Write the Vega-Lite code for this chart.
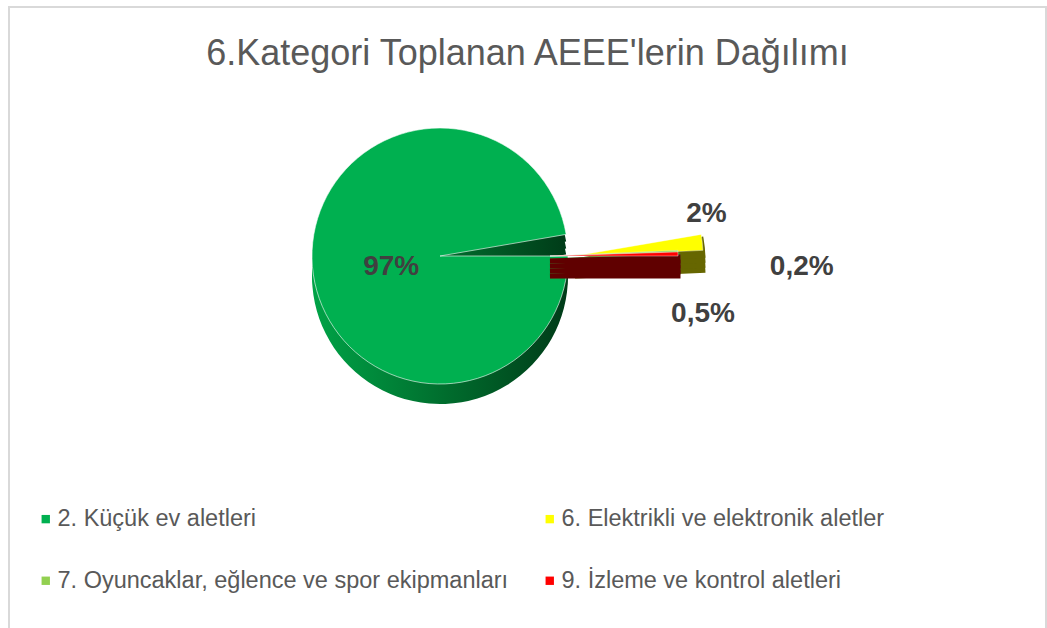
{
  "$schema": "https://vega.github.io/schema/vega-lite/v6.json",
  "width": 1037,
  "height": 625,
  "padding": {"left": 9, "top": 7, "right": 0, "bottom": 0},
  "background": "#ffffff",
  "config": {
    "view": {"stroke": "#D9D9D9", "strokeWidth": 2},
    "font": "Liberation Sans",
    "legend": {
      "orient": "none",
      "legendX": 25,
      "legendY": 500,
      "columns": 2,
      "rowPadding": 37,
      "columnPadding": 29,
      "labelFontSize": 23.5,
      "labelFont": "Liberation Sans",
      "labelColor": "#595959",
      "labelLimit": 700,
      "labelOffset": 0,
      "symbolType": "square",
      "symbolSize": 70,
      "symbolStrokeWidth": 0,
      "padding": 0
    }
  },
  "title": {
    "text": "6.Kategori Toplanan AEEE'lerin Dağılımı",
    "fontSize": 36,
    "font": "Liberation Sans",
    "fontWeight": "normal",
    "color": "#595959",
    "anchor": "middle",
    "baseline": "alphabetic",
    "offset": -61,
    "dy": 33
  },
  "data": {
    "values": [
      {"cat": "2. Küçük ev aletleri", "value": 97.3, "label": "97%", "order": 1},
      {"cat": "6. Elektrikli ve elektronik aletler", "value": 2.0, "label": "2%", "order": 2},
      {"cat": "7. Oyuncaklar, eğlence ve spor ekipmanları", "value": 0.2, "label": "0,2%", "order": 3},
      {"cat": "9. İzleme ve kontrol aletleri", "value": 0.5, "label": "0,5%", "order": 4}
    ]
  },
  "encoding": {
    "theta": {"field": "value", "type": "quantitative", "stack": true, "scale": {"range": [1.5707963, 7.8539816]}},
    "order": {"field": "order", "type": "quantitative"}
  },
  "layer": [
    {
      "mark": {"type": "point", "opacity": 0},
      "encoding": {"x": {"field": "order", "type": "quantitative", "axis": null}}
    },
    {
      "mark": {"type": "arc", "outerRadius": 128, "xOffset": -87.5, "yOffset": -56.5, "color": {"gradient": "linear", "x1": 0, "y1": 0, "x2": 1, "y2": 0, "stops": [{"offset": 0, "color": "#00A347"}, {"offset": 0.55, "color": "#006A2C"}, {"offset": 1, "color": "#003B18"}]}},
      "encoding": {"opacity": {"condition": {"test": "datum.order === 1", "value": 1}, "value": 0}}
    },
    {
      "mark": {"type": "arc", "outerRadius": 128, "xOffset": -87.5, "yOffset": -49.5, "color": {"gradient": "linear", "x1": 0, "y1": 0, "x2": 1, "y2": 0, "stops": [{"offset": 0, "color": "#00A347"}, {"offset": 0.55, "color": "#006A2C"}, {"offset": 1, "color": "#003B18"}]}},
      "encoding": {"opacity": {"condition": {"test": "datum.order === 1", "value": 1}, "value": 0}}
    },
    {
      "mark": {"type": "arc", "outerRadius": 128, "xOffset": -87.5, "yOffset": -43.5, "color": {"gradient": "linear", "x1": 0, "y1": 0, "x2": 1, "y2": 0, "stops": [{"offset": 0, "color": "#00A347"}, {"offset": 0.55, "color": "#006A2C"}, {"offset": 1, "color": "#003B18"}]}},
      "encoding": {"opacity": {"condition": {"test": "datum.order === 1", "value": 1}, "value": 0}}
    },
    {
      "mark": {"type": "arc", "outerRadius": 128, "xOffset": -87.5, "yOffset": -63.5, "stroke": "#ffffff", "strokeWidth": 0.6},
      "encoding": {
        "color": {"field": "cat", "type": "nominal", "scale": {"domain": ["2. Küçük ev aletleri", "7. Oyuncaklar, eğlence ve spor ekipmanları", "6. Elektrikli ve elektronik aletler", "9. İzleme ve kontrol aletleri"], "range": ["#00B050", "#92D050", "#FFFF00", "#FF0000"]}, "legend": {"title": null}},
        "opacity": {"condition": {"test": "datum.order === 1", "value": 1}, "value": 0}
      }
    },
    {
      "mark": {"type": "arc", "outerRadius": 128, "xOffset": 47.5, "yOffset": -43.5, "strokeWidth": 5, "color": "#666600", "stroke": "#666600"},
      "encoding": {"opacity": {"condition": {"test": "datum.order === 2", "value": 1}, "value": 0}}
    },
    {
      "mark": {"type": "arc", "outerRadius": 128, "xOffset": 47.5, "yOffset": -48.5, "strokeWidth": 5, "color": "#666600", "stroke": "#666600"},
      "encoding": {"opacity": {"condition": {"test": "datum.order === 2", "value": 1}, "value": 0}}
    },
    {
      "mark": {"type": "arc", "outerRadius": 128, "xOffset": 47.5, "yOffset": -53.5, "strokeWidth": 5, "color": "#666600", "stroke": "#666600"},
      "encoding": {"opacity": {"condition": {"test": "datum.order === 2", "value": 1}, "value": 0}}
    },
    {
      "mark": {"type": "arc", "outerRadius": 128, "xOffset": 47.5, "yOffset": -58.5, "strokeWidth": 5, "color": "#666600", "stroke": "#666600"},
      "encoding": {"opacity": {"condition": {"test": "datum.order === 2", "value": 1}, "value": 0}}
    },
    {
      "mark": {"type": "arc", "outerRadius": 128, "xOffset": 47.5, "yOffset": -63.5, "stroke": "#ffffff", "strokeWidth": 0.4},
      "encoding": {
        "color": {"field": "cat", "type": "nominal", "legend": {"title": null}},
        "opacity": {"condition": {"test": "datum.order === 2", "value": 1}, "value": 0}
      }
    },
    {
      "mark": {"type": "arc", "outerRadius": 128, "xOffset": 22.5, "yOffset": -43.5, "strokeWidth": 5},
      "encoding": {
        "fill": {"condition": {"test": "datum.order === 3", "value": "#4E7329"}, "value": "#600000"},
        "stroke": {"condition": {"test": "datum.order === 3", "value": "#4E7329"}, "value": "#600000"},
        "opacity": {"condition": {"test": "datum.order > 2", "value": 1}, "value": 0}
      }
    },
    {
      "mark": {"type": "arc", "outerRadius": 128, "xOffset": 22.5, "yOffset": -48.5, "strokeWidth": 5},
      "encoding": {
        "fill": {"condition": {"test": "datum.order === 3", "value": "#4E7329"}, "value": "#600000"},
        "stroke": {"condition": {"test": "datum.order === 3", "value": "#4E7329"}, "value": "#600000"},
        "opacity": {"condition": {"test": "datum.order > 2", "value": 1}, "value": 0}
      }
    },
    {
      "mark": {"type": "arc", "outerRadius": 128, "xOffset": 22.5, "yOffset": -53.5, "strokeWidth": 5},
      "encoding": {
        "fill": {"condition": {"test": "datum.order === 3", "value": "#4E7329"}, "value": "#600000"},
        "stroke": {"condition": {"test": "datum.order === 3", "value": "#4E7329"}, "value": "#600000"},
        "opacity": {"condition": {"test": "datum.order > 2", "value": 1}, "value": 0}
      }
    },
    {
      "mark": {"type": "arc", "outerRadius": 128, "xOffset": 22.5, "yOffset": -58.5, "strokeWidth": 5},
      "encoding": {
        "fill": {"condition": {"test": "datum.order === 3", "value": "#4E7329"}, "value": "#600000"},
        "stroke": {"condition": {"test": "datum.order === 3", "value": "#4E7329"}, "value": "#600000"},
        "opacity": {"condition": {"test": "datum.order > 2", "value": 1}, "value": 0}
      }
    },
    {
      "mark": {"type": "arc", "outerRadius": 128, "xOffset": 22.5, "yOffset": -63.5, "stroke": "#ffffff", "strokeWidth": 0.4},
      "encoding": {
        "color": {"field": "cat", "type": "nominal", "legend": {"title": null}},
        "opacity": {"condition": {"test": "datum.order > 2", "value": 1}, "value": 0}
      }
    },
    {
      "mark": {"type": "text", "radius": 50, "xOffset": -87.5, "yOffset": -63.5, "dx": 1, "dy": 7, "fontSize": 28, "fontWeight": "bold", "font": "Liberation Sans", "color": "#404040"},
      "encoding": {"text": {"condition": {"test": "datum.order === 1", "field": "label"}, "value": ""}}
    },
    {
      "mark": {"type": "text", "radius": 268, "xOffset": -87.5, "yOffset": -63.5, "dy": -13.5, "fontSize": 28, "fontWeight": "bold", "font": "Liberation Sans", "color": "#404040"},
      "encoding": {"text": {"condition": {"test": "datum.order === 2", "field": "label"}, "value": ""}}
    },
    {
      "mark": {"type": "text", "radius": 362, "xOffset": -87.5, "yOffset": -63.5, "dy": 25, "fontSize": 28, "fontWeight": "bold", "font": "Liberation Sans", "color": "#404040"},
      "encoding": {"text": {"condition": {"test": "datum.order === 3", "field": "label"}, "value": ""}}
    },
    {
      "mark": {"type": "text", "radius": 263, "xOffset": -87.5, "yOffset": -63.5, "dy": 62, "fontSize": 28, "fontWeight": "bold", "font": "Liberation Sans", "color": "#404040"},
      "encoding": {"text": {"condition": {"test": "datum.order === 4", "field": "label"}, "value": ""}}
    }
  ],
  "resolve": {"scale": {"color": "shared"}}
}
